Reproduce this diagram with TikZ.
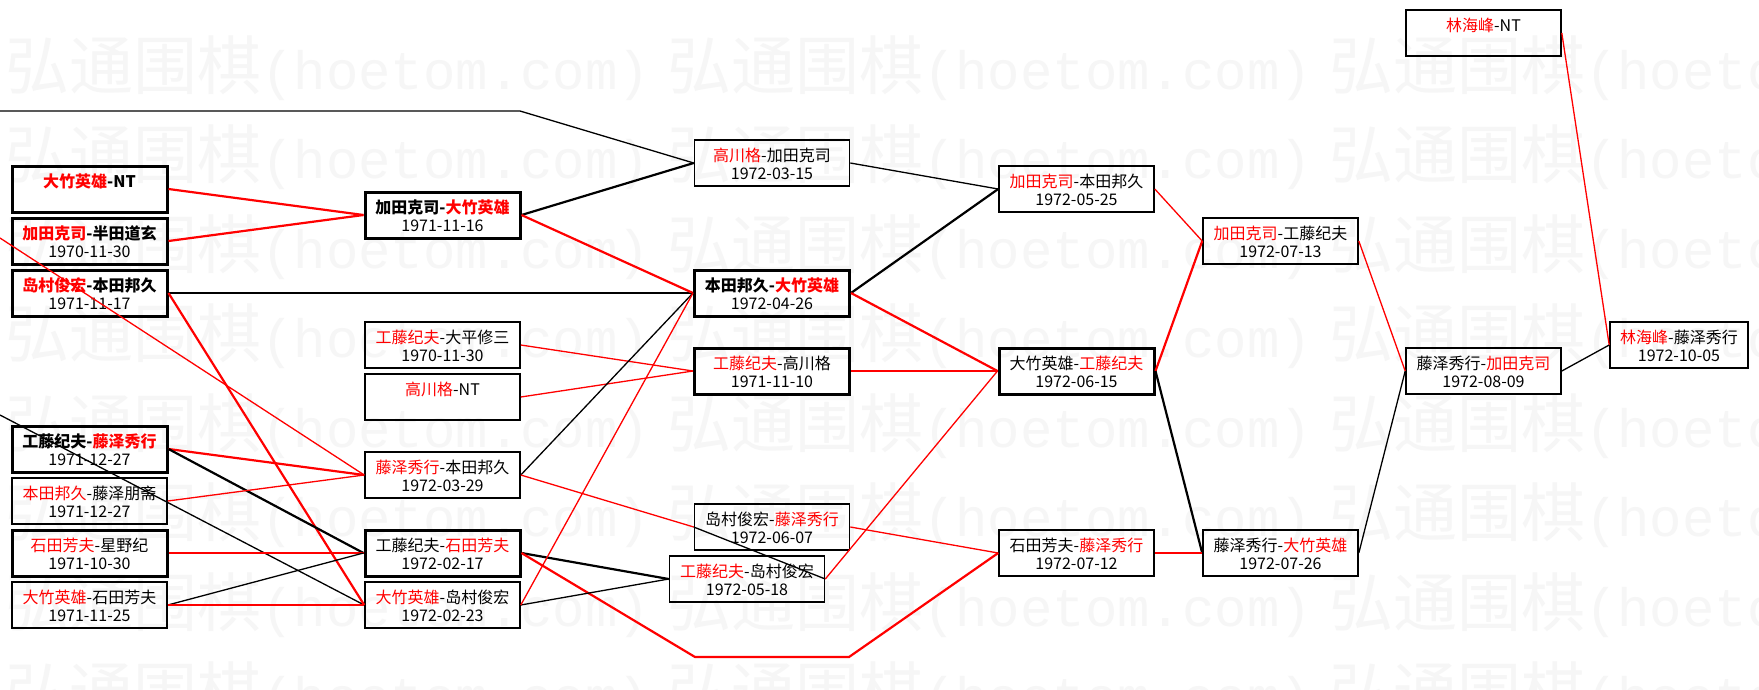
\documentclass[tikz,border=0pt]{standalone}
\usepackage{fontspec}
\setmainfont{Noto Sans CJK SC}
\newfontfamily\wmlatin{Liberation Mono}
\usepackage{tikz}
\usepackage{xcolor}

\newcommand{\winner}[1]{\textcolor{red}{#1}}
\newcommand{\rowstrut}{\rule[-0.8pt]{0pt}{15.8pt}}
\newcommand{\pairing}[2]{\rowstrut#1\\\rowstrut#2}
\newcommand{\keypairing}[2]{\rowstrut{\bfseries#1}\\\rowstrut#2}
\newcommand{\wmunit}{\makebox[662pt][l]{弘通围棋{\wmlatin\fontsize{54}{54}\selectfont(hoetom.com)}}}

\begin{document}
\begin{tikzpicture}[x=1pt,y=-1pt,
  game/.style={draw,rectangle,minimum width=155pt,minimum height=46pt,inner sep=0pt,align=center,line width=1.6pt,font=\fontsize{16}{18}\selectfont},
  topgame/.style={game,line width=3pt},
  lose/.style={line width=1.3pt},
  win/.style={red,line width=1.3pt},
  lose heavy/.style={line width=2.2pt},
  win heavy/.style={red,line width=2.2pt}]
\useasboundingbox (0,0) rectangle (1759,689);
\fill[white] (0,0) rectangle (1759,689);

% watermark rows
\begin{scope}
\clip (0,0) rectangle (1759,689);
\foreach \row in {0,...,7}
  \node[anchor=west,inner sep=0pt,text=black!3.5,font=\fontsize{64}{64}\selectfont] (wm\row) at (5,68+89.5*\row) {\wmunit\wmunit\wmunit};
\end{scope}

% first round
\node[topgame] (c1a) at (89.5,189) {\keypairing{\winner{大竹英雄}-NT}{}};
\node[topgame] (c1b) at (89.5,241) {\keypairing{\winner{加田克司}-半田道玄}{1970-11-30}};
\node[topgame] (c1c) at (89.5,293) {\keypairing{\winner{岛村俊宏}-本田邦久}{1971-11-17}};
\node[topgame] (c1d) at (89.5,449) {\keypairing{工藤纪夫-\winner{藤泽秀行}}{1971-12-27}};
\node[game] (c1e) at (89.5,501) {\pairing{\winner{本田邦久}-藤泽朋斋}{1971-12-27}};
\node[topgame] (c1f) at (89.5,553) {\pairing{\winner{石田芳夫}-星野纪}{1971-10-30}};
\node[game] (c1g) at (89.5,605) {\pairing{\winner{大竹英雄}-石田芳夫}{1971-11-25}};

% second round
\node[topgame] (c2a) at (442.5,215) {\keypairing{加田克司-\winner{大竹英雄}}{1971-11-16}};
\node[game] (c2b) at (442.5,345) {\pairing{\winner{工藤纪夫}-大平修三}{1970-11-30}};
\node[game] (c2c) at (442.5,397) {\pairing{\winner{高川格}-NT}{}};
\node[game] (c2d) at (442.5,475) {\pairing{\winner{藤泽秀行}-本田邦久}{1972-03-29}};
\node[topgame] (c2e) at (442.5,553) {\pairing{工藤纪夫-\winner{石田芳夫}}{1972-02-17}};
\node[game] (c2f) at (442.5,605) {\pairing{\winner{大竹英雄}-岛村俊宏}{1972-02-23}};

% third round
\node[game] (c3a) at (772,163) {\pairing{\winner{高川格}-加田克司}{1972-03-15}};
\node[topgame] (c3b) at (772,293) {\keypairing{本田邦久-\winner{大竹英雄}}{1972-04-26}};
\node[topgame] (c3c) at (772,371) {\pairing{\winner{工藤纪夫}-高川格}{1971-11-10}};
\node[game] (c3d) at (772,527) {\pairing{岛村俊宏-\winner{藤泽秀行}}{1972-06-07}};
\node[game] (c3e) at (747,579) {\pairing{\winner{工藤纪夫}-岛村俊宏}{1972-05-18}};

% later rounds
\node[game] (c4a) at (1076.5,189) {\pairing{\winner{加田克司}-本田邦久}{1972-05-25}};
\node[topgame] (c4b) at (1076.5,371) {\pairing{大竹英雄-\winner{工藤纪夫}}{1972-06-15}};
\node[game] (c4c) at (1076.5,553) {\pairing{石田芳夫-\winner{藤泽秀行}}{1972-07-12}};
\node[game] (c5a) at (1280.5,241) {\pairing{\winner{加田克司}-工藤纪夫}{1972-07-13}};
\node[game] (c5b) at (1280.5,553) {\pairing{藤泽秀行-\winner{大竹英雄}}{1972-07-26}};
\node[game] (c6a) at (1483.5,33) {\pairing{\winner{林海峰}-NT}{}};
\node[game] (c6b) at (1483.5,371) {\pairing{藤泽秀行-\winner{加田克司}}{1972-08-09}};
\node[game,minimum width=138pt] (c7) at (1679,345) {\pairing{\winner{林海峰}-藤泽秀行}{1972-10-05}};

% loose ends
\coordinate (edgeT) at (0,111);
\coordinate (bendT) at (520,111);
\coordinate (edgeR) at (0,238);
\coordinate (edgeB) at (0,415);
\coordinate (dropL) at (695,657);
\coordinate (dropR) at (849,657);

% connectors
\draw[lose] (edgeT) -- (bendT) -- (c3a.west);
\draw[win] (edgeR) -- (c2d.west);
\draw[lose] (edgeB) -- (c2f.west);
\draw[win heavy] (c1a.east) -- (c2a.west);
\draw[win heavy] (c1b.east) -- (c2a.west);
\draw[lose heavy] (c1c.east) -- (c3b.west);
\draw[win heavy] (c1c.east) -- (c2f.west);
\draw[win heavy] (c1d.east) -- (c2d.west);
\draw[lose heavy] (c1d.east) -- (c2e.west);
\draw[win] (c1e.east) -- (c2d.west);
\draw[win heavy] (c1f.east) -- (c2e.west);
\draw[lose] (c1g.east) -- (c2e.west);
\draw[win] (c1g.east) -- (c2f.west);
\draw[lose heavy] (c2a.east) -- (c3a.west);
\draw[win heavy] (c2a.east) -- (c3b.west);
\draw[win] (c2b.east) -- (c3c.west);
\draw[win] (c2c.east) -- (c3c.west);
\draw[lose] (c2d.east) -- (c3b.west);
\draw[win] (c2d.east) -- (c3d.west);
\draw[lose heavy] (c2e.east) -- (c3e.west);
\draw[win heavy] (c2e.east) -- (dropL) -- (dropR) -- (c4c.west);
\draw[lose] (c2f.east) -- (c3e.west);
\draw[win] (c2f.east) -- (c3b.west);
\draw[lose] (c3a.east) -- (c4a.west);
\draw[lose heavy] (c3b.east) -- (c4a.west);
\draw[win heavy] (c3b.east) -- (c4b.west);
\draw[win heavy] (c3c.east) -- (c4b.west);
\draw[win] (c3d.east) -- (c4c.west);
\draw[lose] (c3e.east) -- (c3d.west);
\draw[win] (c3e.east) -- (c4b.west);
\draw[win] (c4a.east) -- (c5a.west);
\draw[win heavy] (c4b.east) -- (c5a.west);
\draw[lose heavy] (c4b.east) -- (c5b.west);
\draw[win] (c4c.east) -- (c5b.west);
\draw[win] (c5a.east) -- (c6b.west);
\draw[lose] (c5b.east) -- (c6b.west);
\draw[win] (c6a.east) -- (c7.west);
\draw[lose] (c6b.east) -- (c7.west);
\end{tikzpicture}
\end{document}
